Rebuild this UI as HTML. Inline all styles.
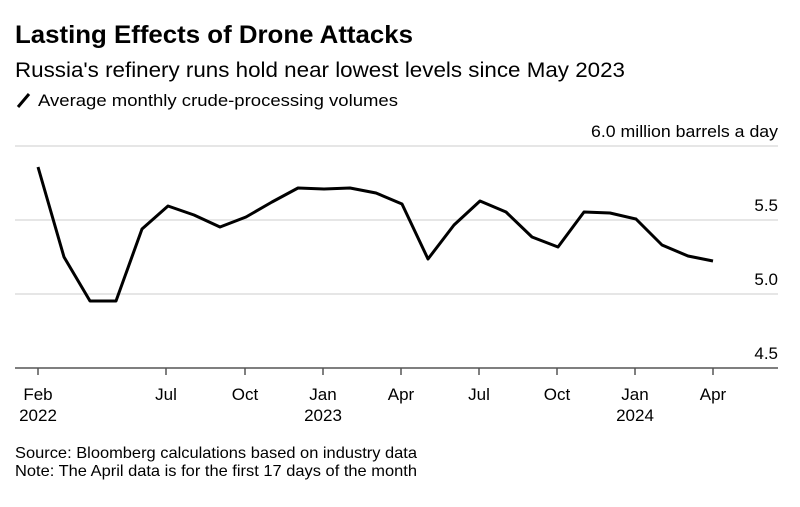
<!DOCTYPE html>
<html><head><meta charset="utf-8"><style>
body{margin:0;background:#fff;width:800px;height:502px;overflow:hidden;font-family:"Liberation Sans",Arial,sans-serif;color:#000}
</style></head><body>
<svg width="800" height="502" xmlns="http://www.w3.org/2000/svg" font-family="Liberation Sans, Arial, sans-serif">
<text x="15" y="43" font-size="25" font-weight="bold" textLength="398" lengthAdjust="spacingAndGlyphs">Lasting Effects of Drone Attacks</text>
<text x="15" y="77" font-size="21" textLength="610" lengthAdjust="spacingAndGlyphs">Russia's refinery runs hold near lowest levels since May 2023</text>
<line x1="18" y1="107" x2="29" y2="94" stroke="#000" stroke-width="3"/>
<text x="38" y="106" font-size="17" textLength="360" lengthAdjust="spacingAndGlyphs">Average monthly crude-processing volumes</text>
<g stroke="#ddd" stroke-width="1.5">
<line x1="15" y1="146" x2="778" y2="146"/>
<line x1="15" y1="220" x2="778" y2="220"/>
<line x1="15" y1="294" x2="778" y2="294"/>
</g>
<g font-size="17" text-anchor="end">
<text x="778" y="137" textLength="187" lengthAdjust="spacingAndGlyphs">6.0 million barrels a day</text>
<text x="778" y="211">5.5</text>
<text x="778" y="285">5.0</text>
<text x="778" y="359">4.5</text>
</g>
<line x1="15" y1="368" x2="778" y2="368" stroke="#555" stroke-width="1.5"/>
<g stroke="#555" stroke-width="1.5">
<line x1="38" y1="368" x2="38" y2="375"/><line x1="166" y1="368" x2="166" y2="375"/>
<line x1="245" y1="368" x2="245" y2="375"/><line x1="323" y1="368" x2="323" y2="375"/>
<line x1="401" y1="368" x2="401" y2="375"/><line x1="479" y1="368" x2="479" y2="375"/>
<line x1="557" y1="368" x2="557" y2="375"/><line x1="635" y1="368" x2="635" y2="375"/>
<line x1="713" y1="368" x2="713" y2="375"/>
</g>
<g font-size="17" text-anchor="middle">
<text x="38" y="400">Feb</text><text x="38" y="421">2022</text>
<text x="166" y="400">Jul</text><text x="245" y="400">Oct</text>
<text x="323" y="400">Jan</text><text x="323" y="421">2023</text>
<text x="401" y="400">Apr</text><text x="479" y="400">Jul</text>
<text x="557" y="400">Oct</text><text x="635" y="400">Jan</text><text x="635" y="421">2024</text>
<text x="713" y="400">Apr</text>
</g>
<polyline fill="none" stroke="#000" stroke-width="3" stroke-linejoin="round" points="38,167 64,257 90,301 116,301 142,229 168,206 194,215 220,227 246,217 272,202 298,188 324,189 350,188 376,193 402,204 428,259 454,225 480,201 506,212 532,237 558,247 584,212 610,213 636,219 662,245 688,256 713,261"/>
<text x="15" y="458" font-size="16" textLength="402" lengthAdjust="spacingAndGlyphs">Source: Bloomberg calculations based on industry data</text>
<text x="15" y="476" font-size="16" textLength="402" lengthAdjust="spacingAndGlyphs">Note: The April data is for the first 17 days of the month</text>
</svg>
</body></html>
